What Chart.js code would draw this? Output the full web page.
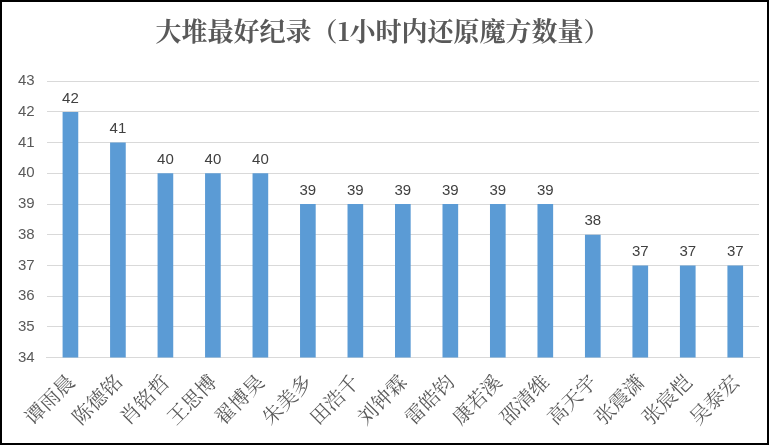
<!DOCTYPE html>
<html>
<head>
<meta charset="utf-8">
<script src="https://cdn.jsdelivr.net/npm/chart.js@4"></script>
<style>
  html, body { margin: 0; padding: 0; background: #fff; }
  #wrap { position: absolute; left: 0; top: 0; width: 765px; height: 441px; border: 2px solid #000; }
</style>
</head>
<body>
<div id="wrap"><canvas id="chartPrincipal"></canvas></div>
<script>
// Datos
const nombres = ['谭雨晨', '陈德铭', '肖铭哲', '王思博', '翟博昊', '朱美多', '田浩千', '刘钟霖', '雷皓钧', '康若溪', '邵清维', '高天宇', '张震潇', '张宸恺', '吴泰宏'];
const cubos = [42, 41, 40, 40, 40, 39, 39, 39, 39, 39, 39, 38, 37, 37, 37];
const ticksY = [34, 35, 36, 37, 38, 39, 40, 41, 42, 43];

// Etiquetas encima de cada barra
const etiquetas = {
    id: 'etiquetas',
    afterDatasetsDraw(chart) {
        const ctx = chart.ctx;
        ctx.save();
        ctx.font = '15px "Liberation Sans", Arial, sans-serif';
        ctx.fillStyle = '#404040';
        ctx.textAlign = 'center';
        ctx.textBaseline = 'bottom';
        chart.getDatasetMeta(0).data.forEach((bar, i) => {
            ctx.fillText(cubos[i], bar.x, bar.y - 6);
        });
        ctx.restore();
    }
};

const ctx = document.getElementById('chartPrincipal').getContext('2d');
new Chart(ctx, {
    type: 'bar',
    data: {
        labels: nombres,
        datasets: [{
            data: cubos,
            backgroundColor: '#5b9bd5',
            barPercentage: 0.66,
            categoryPercentage: 0.5
        }]
    },
    options: {
        responsive: true,
        maintainAspectRatio: false,
        animation: false,
        layout: { padding: { left: 4, right: 8, top: 0, bottom: 10 } },
        plugins: {
            legend: { display: false },
            tooltip: { enabled: false },
            title: {
                display: true,
                text: '大堆最好纪录（1小时内还原魔方数量）',
                color: '#595959',
                font: { family: '"Noto Serif CJK SC", "Noto Sans CJK SC", serif', size: 26, weight: 'bold' },
                padding: { top: 14, bottom: 34 }
            }
        },
        scales: {
            y: {
                min: 34,
                max: 43,
                afterBuildTicks(axis) { axis.ticks = ticksY.map(v => ({ value: v })); },
                grid: { color: '#d9d9d9', drawTicks: false },
                border: { display: false },
                ticks: { color: '#595959', font: { size: 15, family: '"Liberation Sans", Arial' }, padding: 12 }
            },
            x: {
                grid: { display: false },
                border: { color: '#d9d9d9' },
                ticks: {
                    color: '#595959',
                    maxRotation: 45,
                    minRotation: 45,
                    padding: 4,
                    font: { size: 20, family: '"Noto Serif CJK SC", "Noto Sans CJK SC", serif' }
                }
            }
        }
    },
    plugins: [etiquetas]
});
</script>
</body>
</html>
